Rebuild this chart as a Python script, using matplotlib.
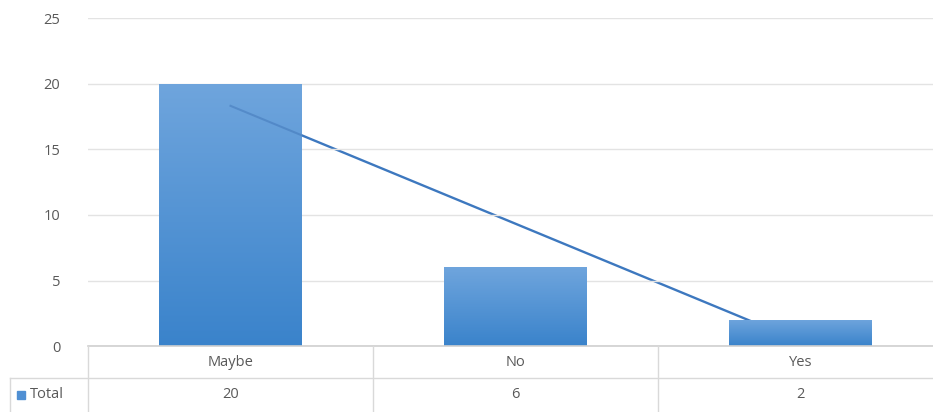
import matplotlib
matplotlib.use("Agg")
import matplotlib.pyplot as plt
import matplotlib.transforms as mtransforms
from matplotlib.lines import Line2D
from matplotlib.patches import Rectangle
import numpy as np

plt.rcParams["font.family"] = ["Open Sans", "DejaVu Sans"]

categories = ["Maybe", "No", "Yes"]
totals = [20, 6, 2]
series_name = "Total"

W, H = 933, 412
TEXT = "#595959"
GRID = "#e3e3e3"
TOP_BLUE = "#6fa5dd"
BOT_BLUE = "#3a83cb"
LINE_BLUE = "#3d78bf"

fig = plt.figure(figsize=(W / 100, H / 100), dpi=100)
ax = fig.add_axes([88 / W, 1 - 346 / H, 855 / W, (346 - 18.5) / H])

x = np.arange(len(categories))

# bars with a vertical gradient
bars = ax.bar(x, totals, width=0.5, color=BOT_BLUE, zorder=2)
grad = np.linspace(0, 1, 256).reshape(-1, 1)
cmap = matplotlib.colors.LinearSegmentedColormap.from_list("g", [BOT_BLUE, TOP_BLUE])
for b in bars:
    im = ax.imshow(grad, cmap=cmap, aspect="auto", origin="lower",
                   extent=[b.get_x(), b.get_x() + b.get_width(), 0, b.get_height()],
                   zorder=2.1)
    im.set_clip_path(b)

# linear trendline: solid behind the bars, faint where it crosses the tall bar
coef = np.polyfit(x, totals, 1)
trend = np.polyval(coef, x)
ax.plot(x, trend, color=LINE_BLUE, lw=1.7, zorder=1.5)
faint, = ax.plot(x, trend, color="#2f62a8", lw=1.5, alpha=0.35, zorder=3)
faint.set_clip_path(bars[0])
ax.set_xlim(-0.5, len(categories) - 0.5)
ax.set_ylim(0, 25)

ax.set_yticks(range(0, 26, 5))
ax.tick_params(axis="y", length=0, pad=20, labelsize=10.5, labelcolor=TEXT)
ax.set_xticks([])
ax.grid(axis="y", color=GRID, lw=1, zorder=0)
for s in ax.spines.values():
    s.set_visible(False)


def fy(py):
    return 1 - py / H


def fx(px):
    return px / W


# data table below the plot
tab = "#d9d9d9"
fig.add_artist(Line2D([fx(88), 1], [fy(346), fy(346)], color="#d0d0d0", lw=1.2))
fig.add_artist(Line2D([fx(10), 1], [fy(378), fy(378)], color=tab, lw=1))
fig.add_artist(Line2D([fx(88), fx(88)], [fy(346), 0], color=tab, lw=1))
fig.add_artist(Line2D([fx(10), fx(10)], [fy(378), 0], color=tab, lw=1))
blend = mtransforms.blended_transform_factory(ax.transData, fig.transFigure)
for i, (c, v) in enumerate(zip(categories, totals)):
    if i > 0:
        fig.add_artist(Line2D([i - 0.5, i - 0.5], [fy(346), 0], color=tab, lw=1,
                              transform=blend))
    fig.text(i, fy(362), c, transform=blend, ha="center", va="center",
             fontsize=10.5, color=TEXT)
    fig.text(i, fy(395), str(v), transform=blend, ha="center", va="center",
             fontsize=10.5, color=TEXT)

fig.add_artist(Rectangle((fx(17), fy(399)), 8 / W, 8 / H, color="#4f8fd3",
                         transform=fig.transFigure))
fig.text(fx(30), fy(395), series_name, ha="left", va="center",
         fontsize=10.5, color=TEXT)

fig.savefig("out.png", dpi=100)
